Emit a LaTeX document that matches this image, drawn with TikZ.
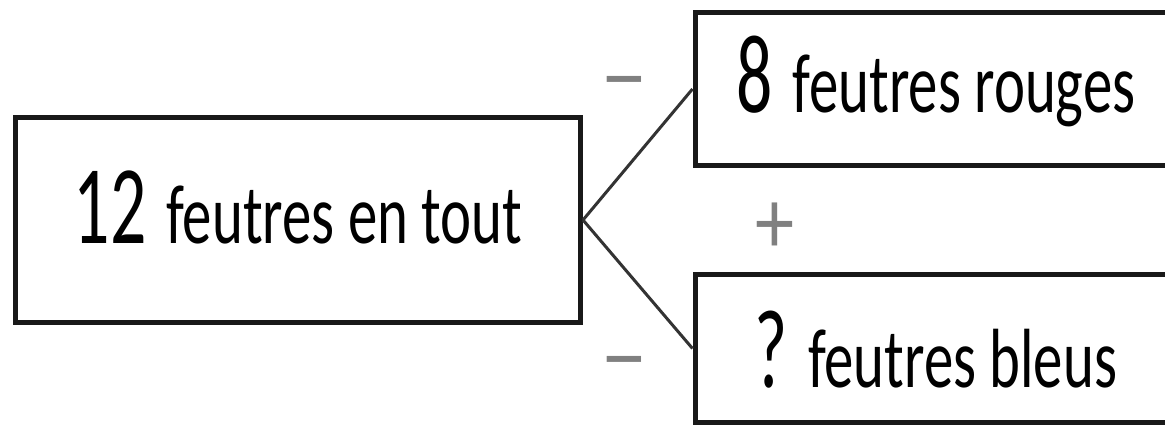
\documentclass[tikz,border=0pt]{standalone}
\usepackage{fontspec}
\setmainfont{Carlito}
\newcommand{\bignum}[1]{\scalebox{0.64}[1]{\fontsize{112}{120}\selectfont #1}}
\newcommand{\smalltxt}[1]{\scalebox{0.7}[1]{\fontsize{84}{96}\selectfont #1}}
\begin{document}
\begin{tikzpicture}[x=1pt,y=-1pt,
  box/.style={draw=black!90, line width=5pt, inner sep=0pt, align=center,
    text height=60pt, text depth=14pt},
  link/.style={draw=black!80, line width=3pt},
  opsign/.style={text=black!50, inner sep=0pt, font=\fontsize{92}{96}\selectfont}]
\useasboundingbox (0,0) rectangle (1165,428);
\clip (0,0) rectangle (1165,428);
\node[box, minimum width=565pt, minimum height=205pt] (lt) at (298,220)
  {\bignum{12}\hspace{20pt}\smalltxt{feutres en tout}};
\node[box, minimum width=482pt, minimum height=153pt] (rt) at (936,89)
  {\bignum{8}\hspace{20pt}\smalltxt{feutres rouges}};
\node[box, minimum width=482pt, minimum height=148pt,
  text height=80pt, text depth=3pt] (rb) at (936,348.5)
  {\bignum{?}\hspace{20pt}\smalltxt{feutres bleus}};
\draw[link] (lt.east) -- (rt.west);
\draw[link] (lt.east) -- (rb.west);
\node[opsign] (m1) at (624,92) {−};
\node[opsign] (m2) at (624,372) {−};
\node[opsign, xscale=0.85, yscale=1.0] (pl) at (775,228) {+};
\end{tikzpicture}
\end{document}
